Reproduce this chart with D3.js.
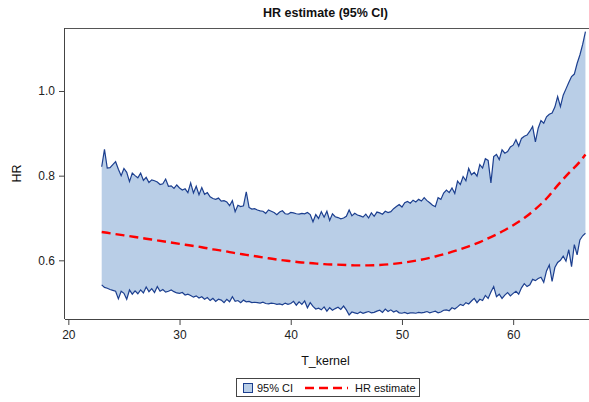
<!DOCTYPE html>
<html><head><meta charset="utf-8">
<script src="https://cdn.jsdelivr.net/npm/d3@7"></script>
<style>body{margin:0;background:#fff}svg{display:block;font-family:"Liberation Sans",Arial,sans-serif}</style>
</head><body><svg id="c" width="589" height="402"></svg>
<script>
const tGrid = [
23,23.25,23.5,23.75,24,24.25,24.5,24.75,25,25.25,25.5,25.75,26,26.25,26.5,26.75,27,27.25,27.5,27.75,
28,28.25,28.5,28.75,29,29.25,29.5,29.75,30,30.25,30.5,30.75,31,31.25,31.5,31.75,32,32.25,32.5,32.75,
33,33.25,33.5,33.75,34,34.25,34.5,34.75,35,35.25,35.5,35.75,36,36.25,36.5,36.75,37,37.25,37.5,37.75,
38,38.25,38.5,38.75,39,39.25,39.5,39.75,40,40.25,40.5,40.75,41,41.25,41.5,41.75,42,42.25,42.5,42.75,
43,43.25,43.5,43.75,44,44.25,44.5,44.75,45,45.25,45.5,45.75,46,46.25,46.5,46.75,47,47.25,47.5,47.75,
48,48.25,48.5,48.75,49,49.25,49.5,49.75,50,50.25,50.5,50.75,51,51.25,51.5,51.75,52,52.25,52.5,52.75,
53,53.25,53.5,53.75,54,54.25,54.5,54.75,55,55.25,55.5,55.75,56,56.25,56.5,56.75,57,57.25,57.5,57.75,
58,58.25,58.5,58.75,59,59.25,59.5,59.75,60,60.25,60.5,60.75,61,61.25,61.5,61.75,62,62.25,62.5,62.75,
63,63.25,63.5,63.75,64,64.25,64.5,64.75,65,65.25,65.5,65.75,66,66.25,66.5];
const ciUpper = [
0.821,0.862,0.818,0.819, 0.826,0.833,0.815,0.800, 0.817,0.808,0.786,0.806, 0.800,0.795,0.806,0.789,
0.796,0.784,0.790,0.788, 0.785,0.779,0.781,0.792, 0.775,0.776,0.770,0.778, 0.771,0.766,0.769,0.760,
0.783,0.759,0.775,0.755, 0.772,0.756,0.760,0.750, 0.746,0.744,0.747,0.740, 0.741,0.738,0.729,0.741,
0.715,0.730,0.727,0.729, 0.762,0.725,0.721,0.722, 0.719,0.717,0.716,0.711, 0.719,0.716,0.713,0.708,
0.714,0.717,0.710,0.709, 0.713,0.712,0.710,0.709, 0.711,0.710,0.713,0.708, 0.691,0.708,0.699,0.715,
0.702,0.716,0.694,0.710, 0.703,0.701,0.698,0.700, 0.704,0.719,0.705,0.711, 0.707,0.705,0.702,0.709,
0.700,0.712,0.704,0.714, 0.712,0.709,0.716,0.713, 0.715,0.722,0.727,0.732, 0.726,0.736,0.739,0.735,
0.742,0.738,0.744,0.740, 0.748,0.741,0.736,0.730, 0.727,0.748,0.744,0.759, 0.766,0.760,0.771,0.758,
0.787,0.779,0.798,0.788, 0.817,0.802,0.808,0.799, 0.826,0.818,0.840,0.836, 0.783,0.845,0.850,0.838,
0.861,0.853,0.857,0.868, 0.872,0.885,0.870,0.888, 0.893,0.896,0.905,0.916, 0.880,0.912,0.930,0.924,
0.939,0.945,0.948,0.962, 0.987,0.963,0.990,1.005, 1.020,1.034,1.040,1.065, 1.085,1.110,1.140];
const ciLower = [
0.542,0.536,0.534,0.531, 0.529,0.527,0.509,0.527, 0.522,0.508,0.530,0.520, 0.528,0.521,0.530,0.523,
0.537,0.526,0.533,0.524, 0.538,0.527,0.531,0.525, 0.527,0.530,0.526,0.523, 0.522,0.524,0.518,0.520,
0.517,0.513,0.516,0.511, 0.514,0.508,0.512,0.505, 0.510,0.503,0.508,0.506, 0.500,0.508,0.502,0.514,
0.503,0.505,0.500,0.506, 0.502,0.503,0.500,0.501, 0.500,0.499,0.501,0.498, 0.497,0.499,0.498,0.496,
0.497,0.495,0.499,0.496, 0.498,0.503,0.494,0.502, 0.496,0.504,0.488,0.500, 0.491,0.485,0.487,0.483,
0.490,0.480,0.488,0.482, 0.486,0.489,0.484,0.492, 0.483,0.471,0.478,0.476, 0.474,0.478,0.475,0.477,
0.479,0.476,0.477,0.480, 0.482,0.477,0.485,0.479, 0.483,0.478,0.481,0.476, 0.475,0.477,0.474,0.476,
0.476,0.475,0.477,0.476, 0.477,0.479,0.476,0.478, 0.480,0.476,0.478,0.482, 0.483,0.481,0.488,0.485,
0.490,0.496,0.493,0.500, 0.497,0.504,0.510,0.500, 0.508,0.505,0.517,0.510, 0.525,0.538,0.514,0.520,
0.510,0.518,0.524,0.516, 0.522,0.527,0.520,0.535, 0.545,0.538,0.542,0.555, 0.552,0.557,0.560,0.548,
0.575,0.589,0.550,0.583, 0.595,0.600,0.610,0.598, 0.625,0.585,0.637,0.613, 0.648,0.658,0.664];
const tEst = [23,24,25,26,27,28,29,30,31,32,33,34,35,36,37,38,39,40,41,42,43,44,
  45,46,47,48,49,50,51,52,53,54,55,56,57,58,59,60,61,62,63,64,65,66,66.5];
const hrEst = [0.667,0.663,0.659,0.655,0.651,0.647,0.643,0.639,0.635,0.631,0.626,0.622,
  0.617,0.613,0.609,0.605,0.601,0.598,0.595,0.593,0.591,0.590,0.589,0.588,0.588,0.589,
  0.591,0.594,0.598,0.603,0.609,0.616,0.624,0.633,0.643,0.655,0.668,0.683,0.700,0.721,
  0.746,0.777,0.806,0.833,0.850];
const xTicks = [20,30,40,50,60];
const yTicks = [0.6,0.8,1.0];
const legendLabels = ["95% CI","HR estimate"];

const svg = d3.select("#c");
const L=65, R=586, T=28, B=319;
const x = d3.scaleLinear().domain([19.7,66.55]).range([L,R]);
const y = d3.scaleLinear().domain([0.4614,1.1488]).range([B,T]);

const band = tGrid.map((t,i)=>({t, lo:ciLower[i], hi:ciUpper[i]}));
svg.append("path").datum(band)
  .attr("fill","#b9cee7")
  .attr("d", d3.area().x(d=>x(d.t)).y0(d=>y(d.lo)).y1(d=>y(d.hi)));
const lineC = "#1c3f8f";
svg.append("path").datum(band).attr("fill","none").attr("stroke",lineC).attr("stroke-width",1.2)
  .attr("d", d3.line().x(d=>x(d.t)).y(d=>y(d.hi)));
svg.append("path").datum(band).attr("fill","none").attr("stroke",lineC).attr("stroke-width",1.2)
  .attr("d", d3.line().x(d=>x(d.t)).y(d=>y(d.lo)));

const est = tEst.map((t,i)=>({t, v:hrEst[i]}));
svg.append("path").datum(est).attr("fill","none").attr("stroke","#ff0000").attr("stroke-width",2.4)
  .attr("stroke-dasharray","9,5")
  .attr("d", d3.line().curve(d3.curveMonotoneX).x(d=>x(d.t)).y(d=>y(d.v)));

// frame
svg.append("line").attr("x1",L).attr("x2",589).attr("y1",T+0.5).attr("y2",T+0.5).attr("stroke","#555");
// axes
const xa = svg.append("g").attr("transform",`translate(0,${B})`)
  .call(d3.axisBottom(x).tickValues(xTicks).tickSize(6).tickSizeOuter(0).tickFormat(d3.format("d")));
xa.select(".domain").attr("d",`M${L},0.5H${589}`);
const ya = svg.append("g").attr("transform",`translate(${L},0)`)
  .call(d3.axisLeft(y).tickValues(yTicks).tickSize(6).tickSizeOuter(0).tickFormat(d3.format(".1f")));
ya.select(".domain").attr("d",`M-0.5,${T}V${B}`);
svg.selectAll(".tick text").attr("font-size",12).attr("fill","#222").attr("font-family","Liberation Sans, Arial, sans-serif");
svg.selectAll(".tick line, .domain").attr("stroke","#444");
xa.selectAll(".tick text").attr("dy","0.9em");
ya.selectAll(".tick text").attr("dx","-1");

svg.append("text").attr("x",(L+R)/2).attr("y",17).attr("text-anchor","middle")
  .attr("font-weight","bold").attr("font-size",12.5).attr("fill","#111").text("HR estimate (95% CI)");
svg.append("text").attr("x",(L+R)/2).attr("y",365).attr("text-anchor","middle")
  .attr("font-size",12.5).attr("fill","#111").text("T_kernel");
svg.append("text").attr("transform",`translate(21,${(T+B)/2}) rotate(-90)`).attr("text-anchor","middle")
  .attr("font-size",12.5).attr("fill","#111").text("HR");

// legend
const lg = svg.append("g");
lg.append("rect").attr("x",236.5).attr("y",378.5).attr("width",183).attr("height",18)
  .attr("fill","#fff").attr("stroke","#444");
lg.append("rect").attr("x",243.5).attr("y",383.5).attr("width",9).attr("height",9)
  .attr("fill","#b9cee7").attr("stroke","#1c3f8f");
lg.append("text").attr("x",257).attr("y",392).attr("font-size",11).attr("fill","#111").text(legendLabels[0]);
lg.append("line").attr("x1",305).attr("x2",348).attr("y1",388).attr("y2",388)
  .attr("stroke","#ff0000").attr("stroke-width",2.4).attr("stroke-dasharray","9,5");
lg.append("text").attr("x",355).attr("y",392).attr("font-size",11).attr("fill","#111").text(legendLabels[1]);
</script></body></html>
